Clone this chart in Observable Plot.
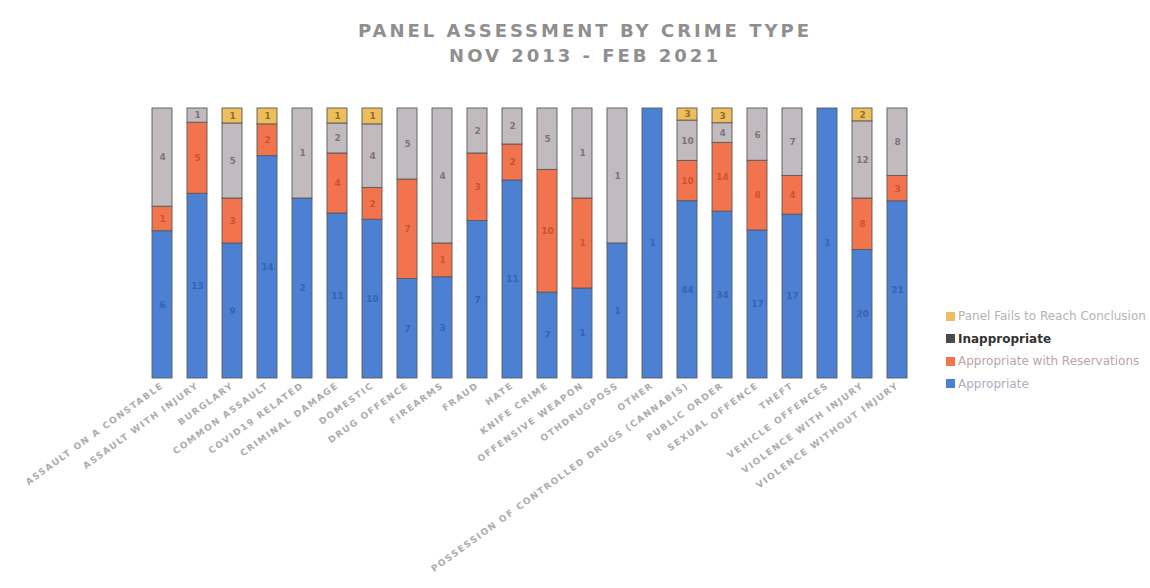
<!DOCTYPE html>
<html>
<head>
<meta charset="utf-8">
<script src="https://cdn.jsdelivr.net/npm/d3@7"></script>
<script src="https://cdn.jsdelivr.net/npm/@observablehq/plot@0.6"></script>
<style>
  html, body { margin: 0; padding: 0; background: #fff; }
  #wrap { position: relative; width: 1150px; height: 588px; overflow: hidden; font-family: "DejaVu Sans", sans-serif; }
  #title { position: absolute; left: 0; top: 18px; width: 1170px; text-align: center; color: #8f8f8f; font-weight: bold; font-size: 18px; letter-spacing: 3px; line-height: 25px; }
  #chart { position: absolute; left: 0; top: 80px; }
  #legend { position: absolute; left: 946px; top: 305px; font-size: 12px; line-height: 22.5px; }
  #legend .item { display: flex; align-items: center; white-space: nowrap; }
  #legend .sw { width: 9px; height: 9px; margin-right: 3px; display: inline-block; }
  #chart svg g[aria-label="x-axis tick label"] text { font-weight: bold; letter-spacing: 1.5px; }
</style>
</head>
<body>
<div id="wrap">
  <div id="title">PANEL ASSESSMENT BY CRIME TYPE<br>NOV 2013 - FEB 2021</div>
  <div id="chart"></div>
  <div id="legend"></div>
</div>
<script>
const categories = [
  "ASSAULT ON A CONSTABLE", "ASSAULT WITH INJURY", "BURGLARY", "COMMON ASSAULT",
  "COVID19 RELATED", "CRIMINAL DAMAGE", "DOMESTIC", "DRUG OFFENCE", "FIREARMS",
  "FRAUD", "HATE", "KNIFE CRIME", "OFFENSIVE WEAPON", "OTHDRUGPOSS", "OTHER",
  "POSSESSION OF CONTROLLED DRUGS (CANNABIS)", "PUBLIC ORDER", "SEXUAL OFFENCE",
  "THEFT", "VEHICLE OFFENCES", "VIOLENCE WITH INJURY", "VIOLENCE WITHOUT INJURY"
];
const seriesNames = ["Appropriate", "Appropriate with Reservations", "Inappropriate", "Panel Fails to Reach Conclusion"];
const appropriate   = [6, 13, 9, 14, 2, 11, 10, 7, 3, 7, 11, 7, 1, 1, 1, 44, 34, 17, 17, 1, 20, 21];
const reservations  = [1, 5, 3, 2, 0, 4, 2, 7, 1, 3, 2, 10, 1, 0, 0, 10, 14, 8, 4, 0, 8, 3];
const inappropriate = [4, 1, 5, 0, 1, 2, 4, 5, 4, 2, 2, 5, 1, 1, 0, 10, 4, 6, 7, 0, 12, 8];
const panelFails    = [0, 0, 1, 1, 0, 1, 1, 0, 0, 0, 0, 0, 0, 0, 0, 3, 3, 0, 0, 0, 2, 0];

const seriesValues = [appropriate, reservations, inappropriate, panelFails];
const colors = ["#4b80d3", "#f1744f", "#c1babe", "#ecbe5c"];
const labelColors = ["#2d5699", "#b8432a", "#5a5558", "#6b4a10"];

const rows = [];
categories.forEach((c, i) => {
  seriesNames.forEach((s, j) => {
    const v = seriesValues[j][i];
    if (v > 0) rows.push({cat: c, series: s, value: v});
  });
});

const chart = Plot.plot({
  width: 1150,
  height: 508,
  marginTop: 28,
  marginBottom: 210,
  marginLeft: 132,
  marginRight: 224,
  style: {fontFamily: "DejaVu Sans, sans-serif", background: "transparent"},
  x: {domain: categories, padding: 0.44, label: null},
  y: {axis: null, domain: [0, 1]},
  color: {domain: seriesNames, range: colors},
  marks: [
    Plot.barY(rows, Plot.stackY({
      x: "cat", y: "value", z: "series", fill: "series", offset: "normalize",
      stroke: "#5a5a5a", strokeWidth: 0.9
    })),
    Plot.text(rows, Plot.stackY({
      x: "cat", y: "value", z: "series", offset: "normalize",
      text: d => String(d.value),
      fill: d => labelColors[seriesNames.indexOf(d.series)],
      fontSize: 9, fontWeight: "bold", fillOpacity: 0.7
    })),
    Plot.axisX({
      tickRotate: -36, tickSize: 0, tickPadding: 6, fontSize: 9,
      fill: "#acacac", label: null
    })
  ]
});
document.getElementById("chart").appendChild(chart);

const legendItems = [
  {name: seriesNames[3], sw: colors[3], text: "#b4b4b4", weight: "normal"},
  {name: seriesNames[2], sw: "#4a4a4a", text: "#333333", weight: "bold"},
  {name: seriesNames[1], sw: colors[1], text: "#b9a6a6", weight: "normal"},
  {name: seriesNames[0], sw: colors[0], text: "#a9afbd", weight: "normal"}
];
const legend = document.getElementById("legend");
legendItems.forEach(it => {
  const div = document.createElement("div");
  div.className = "item";
  const sw = document.createElement("span");
  sw.className = "sw";
  sw.style.background = it.sw;
  const tx = document.createElement("span");
  tx.textContent = it.name;
  tx.style.color = it.text;
  tx.style.fontWeight = it.weight;
  div.appendChild(sw);
  div.appendChild(tx);
  legend.appendChild(div);
});
</script>
</body>
</html>
